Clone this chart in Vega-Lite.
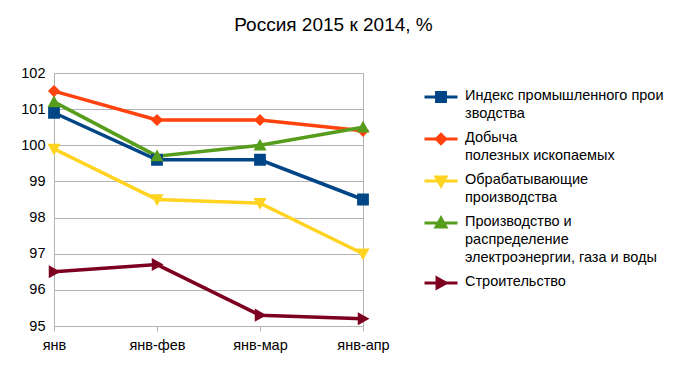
{
  "$schema": "https://vega.github.io/schema/vega-lite/v6.json",
  "width": 309,
  "height": 253,
  "autosize": {"type": "none"},
  "padding": {"left": 54, "top": 73, "right": 328, "bottom": 41},
  "background": "white",
  "title": {"text": "Россия 2015 к 2014, %", "fontSize": 19, "fontWeight": "normal", "font": "Liberation Sans", "color": "#000000", "anchor": "middle", "dx": 125, "offset": 30},
  "config": {
    "view": {"stroke": "#b3b3b3", "strokeWidth": 1},
    "axis": {"labelFont": "Liberation Sans", "labelFontSize": 14.5, "labelColor": "#000000", "domainColor": "#b3b3b3", "tickColor": "#b3b3b3", "gridColor": "#b3b3b3", "title": null}
  },
  "data": {"values": [
    {"period": "янв", "series": "Индекс промышленного прои|зводства", "value": 100.9},
    {"period": "янв-фев", "series": "Индекс промышленного прои|зводства", "value": 99.6},
    {"period": "янв-мар", "series": "Индекс промышленного прои|зводства", "value": 99.6},
    {"period": "янв-апр", "series": "Индекс промышленного прои|зводства", "value": 98.5},
    {"period": "янв", "series": "Добыча|полезных ископаемых", "value": 101.5},
    {"period": "янв-фев", "series": "Добыча|полезных ископаемых", "value": 100.7},
    {"period": "янв-мар", "series": "Добыча|полезных ископаемых", "value": 100.7},
    {"period": "янв-апр", "series": "Добыча|полезных ископаемых", "value": 100.4},
    {"period": "янв", "series": "Обрабатывающие|производства", "value": 99.9},
    {"period": "янв-фев", "series": "Обрабатывающие|производства", "value": 98.5},
    {"period": "янв-мар", "series": "Обрабатывающие|производства", "value": 98.4},
    {"period": "янв-апр", "series": "Обрабатывающие|производства", "value": 97.0},
    {"period": "янв", "series": "Производство и|распределение|электроэнергии, газа и воды", "value": 101.2},
    {"period": "янв-фев", "series": "Производство и|распределение|электроэнергии, газа и воды", "value": 99.7},
    {"period": "янв-мар", "series": "Производство и|распределение|электроэнергии, газа и воды", "value": 100.0},
    {"period": "янв-апр", "series": "Производство и|распределение|электроэнергии, газа и воды", "value": 100.5},
    {"period": "янв", "series": "Строительство", "value": 96.5},
    {"period": "янв-фев", "series": "Строительство", "value": 96.7},
    {"period": "янв-мар", "series": "Строительство", "value": 95.3},
    {"period": "янв-апр", "series": "Строительство", "value": 95.2}
  ]},
  "encoding": {
    "x": {"field": "period", "type": "ordinal", "sort": ["янв", "янв-фев", "янв-мар", "янв-апр"], "scale": {"type": "point", "padding": 0}, "axis": {"labelAngle": 0, "grid": false, "ticks": true, "tickSize": 5, "labelPadding": 7}},
    "y": {"field": "value", "type": "quantitative", "scale": {"domain": [95, 102], "nice": false, "zero": false}, "axis": {"values": [95, 96, 97, 98, 99, 100, 101, 102], "grid": true, "ticks": false, "tickSize": 0, "labelPadding": 9}},
    "color": {
      "field": "series", "type": "nominal",
      "scale": {"domain": ["Индекс промышленного прои|зводства", "Добыча|полезных ископаемых", "Обрабатывающие|производства", "Производство и|распределение|электроэнергии, газа и воды", "Строительство"], "range": ["#004586", "#ff420e", "#ffd320", "#579d1c", "#7e0021"]},
      "legend": {
        "title": null, "orient": "none", "legendX": 369, "legendY": 6, "padding": 0,
        "labelFont": "Liberation Sans", "labelFontSize": 14.5, "labelColor": "#000000", "labelLimit": 400,
        "labelExpr": "split(datum.label, '|')", "labelBaseline": "top", "rowPadding": -1, "labelOffset": 6,
        "symbolSize": 1089,
        "encode": {
          "symbols": {"update": {"shape": {"scale": "shape", "field": "value"}, "fill": {"scale": "color", "field": "value"}, "stroke": {"scale": "color", "field": "value"}, "strokeWidth": {"value": 3}, "size": {"value": 1089}, "opacity": {"value": 1}}},
          "labels": {"update": {"dy": {"value": -8}, "lineHeight": {"value": 18.2}}}
        }
      }
    }
  },
  "layer": [
    {"mark": {"type": "line", "strokeWidth": 3.5}},
    {
      "mark": {"type": "point", "filled": true, "opacity": 1, "size": 1900},
      "encoding": {
        "shape": {
          "field": "series", "type": "nominal",
          "scale": {"domain": ["Индекс промышленного прои|зводства", "Добыча|полезных ископаемых", "Обрабатывающие|производства", "Производство и|распределение|электроэнергии, газа и воды", "Строительство"],
            "range": ["M-1,0H1M-0.27,-0.27H0.27V0.27H-0.27Z", "M-1,0H1M0,-0.28L0.28,0L0,0.28L-0.28,0Z", "M-1,0H1M-0.3,-0.24L0.3,-0.24L0,0.3Z", "M-1,0H1M-0.3,0.24L0.3,0.24L0,-0.3Z", "M-1,0H1M-0.24,-0.3L0.3,0L-0.24,0.3Z"]},
          "legend": {
            "title": null, "orient": "none", "legendX": 369, "legendY": 6, "padding": 0,
            "labelFont": "Liberation Sans", "labelFontSize": 14.5, "labelColor": "#000000", "labelLimit": 400,
            "labelExpr": "split(datum.label, '|')", "labelBaseline": "top", "rowPadding": -1, "labelOffset": 6,
            "symbolSize": 1089,
            "encode": {
              "symbols": {"update": {"shape": {"scale": "shape", "field": "value"}, "fill": {"scale": "color", "field": "value"}, "stroke": {"scale": "color", "field": "value"}, "strokeWidth": {"value": 3}, "size": {"value": 1089}, "opacity": {"value": 1}}},
              "labels": {"update": {"dy": {"value": -8}, "lineHeight": {"value": 18.2}}}
            }
          }
        }
      }
    }
  ]
}
